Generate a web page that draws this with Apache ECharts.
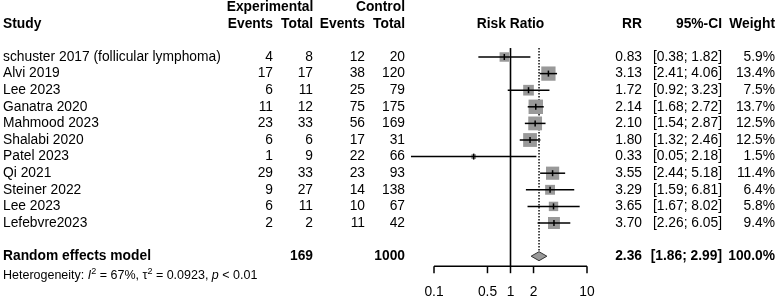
<!DOCTYPE html>
<html>
<head>
<meta charset="utf-8">
<script src="https://cdn.jsdelivr.net/npm/echarts@6/dist/echarts.min.js"></script>
<style>
  html, body { margin: 0; padding: 0; background: #fff; }
  #chart { width: 777px; height: 297px; }
</style>
</head>
<body>
<div id="chart"></div>
<script>
var studies = ['schuster 2017 (follicular lymphoma)', 'Alvi 2019', 'Lee 2023', 'Ganatra 2020', 'Mahmood 2023',
  'Shalabi 2020', 'Patel 2023', 'Qi 2021', 'Steiner 2022', 'Lee 2023', 'Lefebvre2023'];
var expEvents = [4, 17, 6, 11, 23, 6, 1, 29, 9, 6, 2];
var expTotal = [8, 17, 11, 12, 33, 6, 9, 33, 27, 11, 2];
var ctrlEvents = [12, 38, 25, 75, 56, 17, 22, 23, 14, 10, 11];
var ctrlTotal = [20, 120, 79, 175, 169, 31, 66, 93, 138, 67, 42];
var rr = [0.83, 3.13, 1.72, 2.14, 2.10, 1.80, 0.33, 3.55, 3.29, 3.65, 3.70];
var ciLow = [0.38, 2.41, 0.92, 1.68, 1.54, 1.32, 0.05, 2.44, 1.59, 1.67, 2.26];
var ciHigh = [1.82, 4.06, 3.23, 2.72, 2.87, 2.46, 2.18, 5.18, 6.81, 8.02, 6.05];
var weight = [5.9, 13.4, 7.5, 13.7, 12.5, 12.5, 1.5, 11.4, 6.4, 5.8, 9.4];

var pooledLabel = 'Random effects model';
var pooledTotals = [169, 1000];
var pooledRR = [2.36, 1.86, 2.99]; // estimate, lower, upper
var pooledWeight = 100.0;
var hetero = ['67%', '0.0923', '< 0.01']; // I2, tau2, p
var xTicks = [0.1, 0.5, 1, 2, 10];

var FONT = '"Liberation Sans", Arial, sans-serif';
var FS = 13.8;
var pooledRow = studies.length + 1;

function txt(x, y, s, align, bold, size) {
  return {
    type: 'text', x: x, y: y,
    style: {
      text: s, fill: '#000', fontFamily: FONT, fontSize: size || FS,
      fontWeight: bold ? 'bold' : 'normal', align: align || 'left', verticalAlign: 'middle'
    }
  };
}
function fmtCI(lo, hi) {
  return '[' + lo.toFixed(2) + '; ' + hi.toFixed(2) + ']';
}

var chart = echarts.init(document.getElementById('chart'));

var option = {
  animation: false,
  grid: { left: 357.5, width: 306, top: 57, height: 199.2 },
  xAxis: { type: 'log', min: 0.01, max: 100, show: false },
  yAxis: { type: 'value', min: 0, max: pooledRow, inverse: true, show: false },
  series: [
    // table text
    {
      type: 'custom',
      clip: false,
      data: [0],
      renderItem: function (params, api) {
        var yr = function (r) { return api.coord([1, r])[1]; };
        var kids = [];
        var h1 = yr(-3), h2 = yr(-2);
        kids.push(txt(270, h1, 'Experimental', 'center', true));
        kids.push(txt(405, h1, 'Control', 'right', true));
        kids.push(txt(3, h2, 'Study', 'left', true));
        kids.push(txt(273, h2, 'Events', 'right', true));
        kids.push(txt(313, h2, 'Total', 'right', true));
        kids.push(txt(365, h2, 'Events', 'right', true));
        kids.push(txt(405, h2, 'Total', 'right', true));
        kids.push(txt(api.coord([1, 0])[0], h2, 'Risk Ratio', 'center', true));
        kids.push(txt(642, h2, 'RR', 'right', true));
        kids.push(txt(722, h2, '95%-CI', 'right', true));
        kids.push(txt(775, h2, 'Weight', 'right', true));
        for (var i = 0; i < studies.length; i++) {
          var y = yr(i);
          kids.push(txt(3, y, studies[i]));
          kids.push(txt(273, y, String(expEvents[i]), 'right'));
          kids.push(txt(313, y, String(expTotal[i]), 'right'));
          kids.push(txt(365, y, String(ctrlEvents[i]), 'right'));
          kids.push(txt(405, y, String(ctrlTotal[i]), 'right'));
          kids.push(txt(642, y, rr[i].toFixed(2), 'right'));
          kids.push(txt(722, y, fmtCI(ciLow[i], ciHigh[i]), 'right'));
          kids.push(txt(775, y, weight[i].toFixed(1) + '%', 'right'));
        }
        var py = yr(pooledRow);
        kids.push(txt(3, py, pooledLabel, 'left', true));
        kids.push(txt(313, py, String(pooledTotals[0]), 'right', true));
        kids.push(txt(405, py, String(pooledTotals[1]), 'right', true));
        kids.push(txt(642, py, pooledRR[0].toFixed(2), 'right', true));
        kids.push(txt(722, py, fmtCI(pooledRR[1], pooledRR[2]), 'right', true));
        kids.push(txt(775, py, pooledWeight.toFixed(1) + '%', 'right', true));
        kids.push({
          type: 'text', x: 3, y: yr(pooledRow + 1.1),
          style: {
            text: '{n|Heterogeneity: }{i|I}{s|2}{n| = ' + hetero[0] + ', \u03c4}{s|2}{n| = ' + hetero[1] +
              ', }{i|p}{n| ' + hetero[2] + '}',
            fill: '#000', verticalAlign: 'middle',
            rich: {
              n: { fontFamily: FONT, fontSize: 12.5, lineHeight: 15, verticalAlign: 'bottom' },
              i: { fontFamily: FONT, fontSize: 12.5, fontStyle: 'italic', lineHeight: 15, verticalAlign: 'bottom' },
              s: { fontFamily: FONT, fontSize: 9, lineHeight: 15, verticalAlign: 'top' }
            }
          }
        });
        return { type: 'group', children: kids };
      }
    },
    // reference lines and x axis
    {
      type: 'custom',
      clip: false,
      data: [0],
      renderItem: function (params, api) {
        var top = api.coord([1, -0.54])[1];
        var axisY = api.coord([1, pooledRow])[1] + 10;
        var x1 = api.coord([1, 0])[0];
        var xp = api.coord([pooledRR[0], 0])[0];
        var kids = [
          { type: 'line', shape: { x1: x1, y1: top, x2: x1, y2: axisY }, style: { stroke: '#000', lineWidth: 1.6 } },
          { type: 'line', shape: { x1: xp, y1: top, x2: xp, y2: api.coord([1, pooledRow])[1] - 4 },
            style: { stroke: '#000', lineWidth: 1.4, lineDash: [1.5, 1.5] } }
        ];
        var xa = api.coord([xTicks[0], 0])[0], xb = api.coord([xTicks[xTicks.length - 1], 0])[0];
        kids.push({ type: 'line', shape: { x1: xa, y1: axisY, x2: xb, y2: axisY }, style: { stroke: '#000', lineWidth: 1.5 } });
        xTicks.forEach(function (t) {
          var x = api.coord([t, 0])[0];
          kids.push({ type: 'line', shape: { x1: x, y1: axisY, x2: x, y2: axisY + 7 }, style: { stroke: '#000', lineWidth: 1.5 } });
          kids.push(txt(x, axisY + 26, String(t), 'center'));
        });
        return { type: 'group', children: kids };
      }
    },
    // study squares and confidence intervals
    {
      type: 'custom',
      clip: false,
      data: rr.map(function (v, i) { return [v, i, ciLow[i], ciHigh[i], weight[i]]; }),
      renderItem: function (params, api) {
        var c = api.coord([api.value(0), api.value(1)]);
        var lo = api.coord([api.value(2), api.value(1)]);
        var hi = api.coord([api.value(3), api.value(1)]);
        var s = 3.9 * Math.sqrt(api.value(4));
        return {
          type: 'group',
          children: [
            { type: 'rect', shape: { x: c[0] - s / 2, y: c[1] - s / 2, width: s, height: s }, style: { fill: '#999' } },
            { type: 'line', shape: { x1: lo[0], y1: c[1], x2: hi[0], y2: c[1] }, style: { stroke: '#000', lineWidth: 1.5 } },
            { type: 'line', shape: { x1: c[0], y1: c[1] - 3, x2: c[0], y2: c[1] + 3 }, style: { stroke: '#000', lineWidth: 1.5 } }
          ]
        };
      }
    },
    // pooled diamond
    {
      type: 'custom',
      clip: false,
      data: [[pooledRR[0], pooledRow, pooledRR[1], pooledRR[2]]],
      renderItem: function (params, api) {
        var c = api.coord([api.value(0), api.value(1)]);
        var lo = api.coord([api.value(2), api.value(1)]);
        var hi = api.coord([api.value(3), api.value(1)]);
        return {
          type: 'polygon',
          shape: { points: [[lo[0], c[1]], [c[0], c[1] - 4.5], [hi[0], c[1]], [c[0], c[1] + 4.5]] },
          style: { fill: '#999', stroke: '#333', lineWidth: 1 }
        };
      }
    }
  ]
};

chart.setOption(option);
</script>
</body>
</html>
